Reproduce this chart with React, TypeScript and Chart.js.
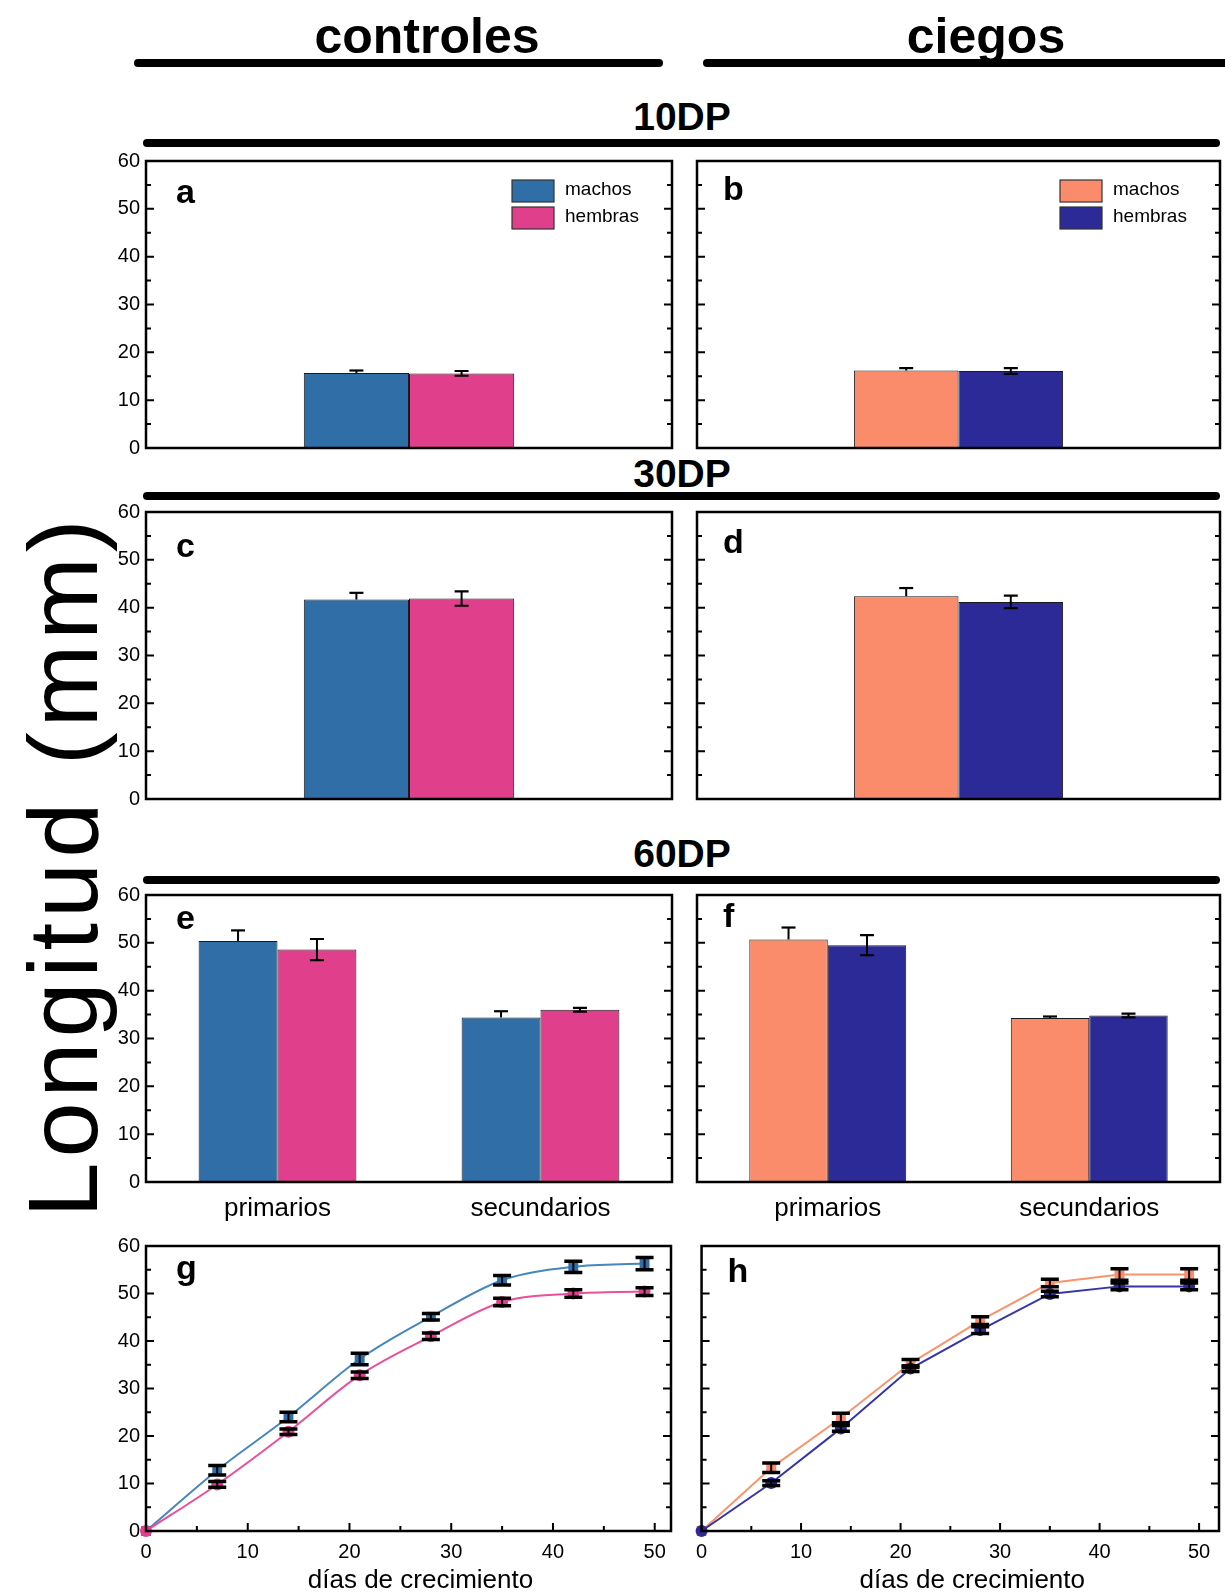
import React, { useEffect, useRef } from 'react';
import { Chart, registerables } from 'chart.js';
Chart.register(...registerables);

const FONT = '"Liberation Sans", Arial, Helvetica, sans-serif';

// ---------------- data ----------------
const cat10DP = ['10DP'];
const cat30DP = ['30DP'];
const cat60DP = ['primarios', 'secundarios'];
const yTickValues = [0, 10, 20, 30, 40, 50, 60];
const dayTickValues = [0, 10, 20, 30, 40, 50];
const days = [0, 7, 14, 21, 28, 35, 42, 49];
const xTitle = 'días de crecimiento';

// 10DP
const aMachos = [15.7];
const aMachosErr = [0.5];
const aHembras = [15.6];
const aHembrasErr = [0.5];
const bMachos = [16.2];
const bMachosErr = [0.5];
const bHembras = [16.1];
const bHembrasErr = [0.6];
// 30DP
const cMachos = [41.7];
const cMachosErr = [1.4];
const cHembras = [41.9];
const cHembrasErr = [1.5];
const dMachos = [42.4];
const dMachosErr = [1.7];
const dHembras = [41.2];
const dHembrasErr = [1.3];
// 60DP
const eMachos = [50.4, 34.4];
const eMachosErr = [2.2, 1.3];
const eHembras = [48.6, 36.0];
const eHembrasErr = [2.2, 0.4];
const fMachos = [50.7, 34.3];
const fMachosErr = [2.5, 0.3];
const fHembras = [49.5, 34.8];
const fHembrasErr = [2.1, 0.4];
// growth
const gMachos = [0, 12.8, 24.0, 36.2, 45.1, 52.8, 55.6, 56.3];
const gMachosErr = [0, 1.0, 1.0, 1.2, 0.7, 1.0, 1.2, 1.3];
const gHembras = [0, 9.8, 20.9, 32.8, 41.0, 48.2, 50.0, 50.4];
const gHembrasErr = [0, 0.6, 0.6, 0.7, 0.7, 0.8, 0.8, 0.8];
const hMachos = [0, 13.3, 23.8, 35.3, 44.3, 52.2, 54.0, 54.0];
const hMachosErr = [0, 1.0, 1.0, 0.8, 0.8, 0.8, 1.2, 1.2];
const hHembras = [0, 10.1, 21.6, 34.2, 42.3, 49.9, 51.5, 51.5];
const hHembrasErr = [0, 0.5, 0.6, 0.6, 0.7, 0.6, 0.7, 0.7];

// ---------------- style ----------------
const BLUE = '#2f6ea7';
const PINK = '#e0408b';
const SALMON = '#fa8c6c';
const NAVY = '#2c2a96';
const BLUE_LINE = '#4587ba';
const PINK_LINE = '#e8509a';
const SALMON_LINE = '#f7956e';
const NAVY_LINE = '#3434aa';

const COL_L = [146, 697];
const COL_R = [672, 1220];
const ROW_T = [161, 512, 895, 1246];
const ROW_B = [448, 799, 1182, 1531];

type Series = {
  label: string;
  values: number[];
  errs: number[];
  upOnly: boolean;
  color: string;
  lineColor?: string;
  pointStyle?: string;
};

type Spec = {
  id: string;
  col: number;
  row: number;
  letter: string;
  letterBase: number;
  kind: 'bar' | 'line';
  labels?: string[];
  catPct?: number;
  smooth?: boolean;
  legend?: boolean;
  xMax?: number;
  series: Series[];
};

const specs: Spec[] = [
  {
    id: 'a', col: 0, row: 0, letter: 'a', letterBase: 42, kind: 'bar', labels: cat10DP, catPct: 0.4, legend: true,
    series: [
      { label: 'machos', values: aMachos, errs: aMachosErr, upOnly: true, color: BLUE },
      { label: 'hembras', values: aHembras, errs: aHembrasErr, upOnly: false, color: PINK },
    ],
  },
  {
    id: 'b', col: 1, row: 0, letter: 'b', letterBase: 39, kind: 'bar', labels: cat10DP, catPct: 0.4, legend: true,
    series: [
      { label: 'machos', values: bMachos, errs: bMachosErr, upOnly: true, color: SALMON },
      { label: 'hembras', values: bHembras, errs: bHembrasErr, upOnly: false, color: NAVY },
    ],
  },
  {
    id: 'c', col: 0, row: 1, letter: 'c', letterBase: 45, kind: 'bar', labels: cat30DP, catPct: 0.4,
    series: [
      { label: 'machos', values: cMachos, errs: cMachosErr, upOnly: true, color: BLUE },
      { label: 'hembras', values: cHembras, errs: cHembrasErr, upOnly: false, color: PINK },
    ],
  },
  {
    id: 'd', col: 1, row: 1, letter: 'd', letterBase: 41, kind: 'bar', labels: cat30DP, catPct: 0.4,
    series: [
      { label: 'machos', values: dMachos, errs: dMachosErr, upOnly: true, color: SALMON },
      { label: 'hembras', values: dHembras, errs: dHembrasErr, upOnly: false, color: NAVY },
    ],
  },
  {
    id: 'e', col: 0, row: 2, letter: 'e', letterBase: 34, kind: 'bar', labels: cat60DP, catPct: 0.6,
    series: [
      { label: 'machos', values: eMachos, errs: eMachosErr, upOnly: true, color: BLUE },
      { label: 'hembras', values: eHembras, errs: eHembrasErr, upOnly: false, color: PINK },
    ],
  },
  {
    id: 'f', col: 1, row: 2, letter: 'f', letterBase: 32, kind: 'bar', labels: cat60DP, catPct: 0.6,
    series: [
      { label: 'machos', values: fMachos, errs: fMachosErr, upOnly: true, color: SALMON },
      { label: 'hembras', values: fHembras, errs: fHembrasErr, upOnly: false, color: NAVY },
    ],
  },
  {
    id: 'g', col: 0, row: 3, letter: 'g', letterBase: 33, kind: 'line', smooth: true, xMax: 51.6,
    series: [
      { label: 'machos', values: gMachos, errs: gMachosErr, upOnly: false, color: BLUE, lineColor: BLUE_LINE, pointStyle: 'rect' },
      { label: 'hembras', values: gHembras, errs: gHembrasErr, upOnly: false, color: PINK, lineColor: PINK_LINE, pointStyle: 'circle' },
    ],
  },
  {
    id: 'h', col: 1, row: 3, letter: 'h', letterBase: 36, kind: 'line', smooth: false, xMax: 52,
    series: [
      { label: 'machos', values: hMachos, errs: hMachosErr, upOnly: false, color: SALMON, lineColor: SALMON_LINE, pointStyle: 'rect' },
      { label: 'hembras', values: hHembras, errs: hHembrasErr, upOnly: false, color: NAVY, lineColor: NAVY_LINE, pointStyle: 'circle' },
    ],
  },
];

function geometry(s: Spec) {
  const padL = s.col === 0 ? 50 : 10;
  const padR = 6;
  const padT = 22;
  const padB = s.row <= 1 ? 22 : s.row === 2 ? 50 : 1592 - ROW_B[3];
  const W = COL_R[s.col] - COL_L[s.col];
  const H = ROW_B[s.row] - ROW_T[s.row];
  return {
    padL, padR, padT, padB,
    left: COL_L[s.col] - padL,
    top: ROW_T[s.row] - padT,
    width: W + padL + padR,
    height: H + padT + padB,
  };
}

function decorPlugin(s: Spec) {
  return {
    id: 'decor_' + s.id,
    afterDatasetsDraw(chart: any) {
      const { ctx, chartArea: ca } = chart;
      const ys = chart.scales.y;
      const xs = chart.scales.x;
      const isLine = s.kind === 'line';
      ctx.save();
      // error bars
      s.series.forEach((se, di) => {
        const meta = chart.getDatasetMeta(di);
        meta.data.forEach((el: any, j: number) => {
          const e = se.errs[j];
          if (!e) return;
          const v = se.values[j];
          const yt = ys.getPixelForValue(v + e);
          const yb = ys.getPixelForValue(se.upOnly ? v : v - e);
          const half = isLine ? 9 : 7;
          ctx.strokeStyle = '#000';
          ctx.lineWidth = 2;
          ctx.beginPath();
          ctx.moveTo(el.x, yt);
          ctx.lineTo(el.x, yb);
          ctx.stroke();
          ctx.lineWidth = isLine ? 3.5 : 2.2;
          ctx.beginPath();
          ctx.moveTo(el.x - half, yt);
          ctx.lineTo(el.x + half, yt);
          if (!se.upOnly) {
            ctx.moveTo(el.x - half, yb);
            ctx.lineTo(el.x + half, yb);
          }
          ctx.stroke();
        });
      });
      // inward ticks
      ctx.strokeStyle = '#000';
      ctx.lineWidth = 2;
      ctx.beginPath();
      for (let v = 5; v < 60; v += 5) {
        const py = ys.getPixelForValue(v);
        const len = v % 10 === 0 ? 8 : 5;
        ctx.moveTo(ca.left, py);
        ctx.lineTo(ca.left + len, py);
        ctx.moveTo(ca.right, py);
        ctx.lineTo(ca.right - len, py);
      }
      if (isLine) {
        for (let v = 5; v <= 50; v += 5) {
          const px = xs.getPixelForValue(v);
          const len = v % 10 === 0 ? 8 : 5;
          ctx.moveTo(px, ca.bottom);
          ctx.lineTo(px, ca.bottom - len);
        }
      }
      ctx.stroke();
      // frame
      ctx.lineWidth = 2.5;
      ctx.strokeRect(ca.left, ca.top, ca.right - ca.left, ca.bottom - ca.top);
      // panel letter
      ctx.fillStyle = '#000';
      ctx.font = `bold 34px ${FONT}`;
      ctx.textAlign = 'left';
      ctx.textBaseline = 'alphabetic';
      ctx.fillText(s.letter, ca.left + (s.col === 0 ? 30 : 26), ca.top + s.letterBase);
      // x axis title (growth panels)
      if (isLine) {
        ctx.font = `26px ${FONT}`;
        ctx.textAlign = 'center';
        ctx.textBaseline = 'middle';
        ctx.fillText(xTitle, (ca.left + ca.right) / 2 + 12, ca.bottom + 50);
      }
      // legend
      if (s.legend) {
        const bx = ca.right - 160;
        ctx.textAlign = 'left';
        ctx.textBaseline = 'alphabetic';
        s.series.forEach((se, i) => {
          const by = ca.top + 19 + i * 27;
          ctx.fillStyle = se.color;
          ctx.fillRect(bx, by, 42, 22);
          ctx.strokeStyle = '#333';
          ctx.lineWidth = 1.2;
          ctx.strokeRect(bx, by, 42, 22);
          ctx.fillStyle = '#000';
          ctx.font = `19px ${FONT}`;
          ctx.fillText(se.label, bx + 53, by + 15);
        });
      }
      ctx.restore();
    },
  };
}

function buildConfig(s: Spec) {
  const g = geometry(s);
  const isLine = s.kind === 'line';
  const datasets: any[] = s.series.map((se, i) =>
    isLine
      ? {
          type: 'line',
          label: se.label,
          data: days.map((d, j) => ({ x: d, y: se.values[j] })),
          borderColor: se.lineColor,
          borderWidth: 2,
          backgroundColor: se.color,
          pointStyle: se.pointStyle,
          pointRadius: se.pointStyle === 'rect' ? 7 : 6,
          pointBorderWidth: 0,
          pointBackgroundColor: se.color,
          cubicInterpolationMode: s.smooth ? 'monotone' : 'default',
          tension: 0,
          order: i === 1 ? 0 : 1,
          clip: false,
        }
      : {
          label: se.label,
          data: se.values,
          backgroundColor: se.color,
          borderColor: '#1a1a1a',
          borderWidth: 1,
          categoryPercentage: s.catPct,
          barPercentage: 1,
        }
  );

  const yScale: any = {
    min: 0,
    max: 60,
    afterBuildTicks: (sc: any) => {
      sc.ticks = yTickValues.map((v) => ({ value: v }));
    },
    grid: { display: false, drawTicks: false },
    border: { display: false },
    ticks: { display: s.col === 0, padding: 6, color: '#000', font: { family: FONT, size: 20 } },
    afterFit: (sc: any) => {
      sc.width = g.padL;
    },
  };

  const showCat = s.row === 2;
  const xScale: any = isLine
    ? {
        type: 'linear',
        min: 0,
        max: s.xMax,
        afterBuildTicks: (sc: any) => {
          sc.ticks = dayTickValues.map((v) => ({ value: v }));
        },
        grid: { display: false, drawTicks: false },
        border: { display: false },
        ticks: { padding: 9, color: '#000', font: { family: FONT, size: 20 } },
        afterFit: (sc: any) => {
          sc.height = g.padB;
        },
      }
    : {
        type: 'category',
        display: showCat,
        grid: { display: false, drawTicks: false },
        border: { display: false },
        ticks: { padding: 11, color: '#000', font: { family: FONT, size: 26 } },
        afterFit: (sc: any) => {
          sc.height = showCat ? g.padB : 0;
        },
      };

  const bottomPad = !isLine && !showCat ? g.padB : 0;

  return {
    type: isLine ? 'line' : 'bar',
    data: { labels: s.labels, datasets },
    options: {
      responsive: false,
      maintainAspectRatio: false,
      animation: false,
      devicePixelRatio: 1,
      layout: { padding: { left: 0, right: g.padR, top: g.padT, bottom: bottomPad } },
      plugins: { legend: { display: false }, tooltip: { enabled: false }, title: { display: false } },
      scales: { x: xScale, y: yScale },
    },
    plugins: [decorPlugin(s)],
  };
}

function Panel({ spec }: { spec: Spec }) {
  const ref = useRef<HTMLCanvasElement>(null);
  const g = geometry(spec);
  useEffect(() => {
    const chart = new Chart(ref.current as HTMLCanvasElement, buildConfig(spec) as any);
    return () => chart.destroy();
  }, []);
  return (
    <canvas
      ref={ref}
      width={g.width}
      height={g.height}
      style={{ position: 'absolute', left: g.left, top: g.top, width: g.width, height: g.height }}
    />
  );
}

function Label({ text, x, baseline, size, bold }: { text: string; x: number; baseline: number; size: number; bold?: boolean }) {
  return (
    <div
      style={{
        position: 'absolute',
        left: x,
        top: baseline - 0.8465 * size,
        transform: 'translateX(-50%)',
        fontFamily: FONT,
        fontWeight: bold ? 700 : 400,
        fontSize: size,
        lineHeight: `${size}px`,
        whiteSpace: 'nowrap',
        color: '#000',
      }}
    >
      {text}
    </div>
  );
}

function Rule({ x1, x2, y }: { x1: number; x2: number; y: number }) {
  return (
    <div
      style={{
        position: 'absolute',
        left: x1,
        top: y - 4,
        width: x2 - x1,
        height: 8,
        background: '#000',
        borderRadius: 4,
      }}
    />
  );
}

export default function App() {
  return (
    <div
      style={{
        position: 'absolute',
        left: 0,
        top: 0,
        width: 1225,
        height: 1592,
        background: '#fff',
        overflow: 'hidden',
      }}
    >
      <Label text="controles" x={427} baseline={53} size={50} bold />
      <Label text="ciegos" x={986} baseline={53} size={50} bold />
      <Rule x1={134} x2={663} y={63} />
      <Rule x1={703} x2={1232} y={63} />
      <Label text="10DP" x={682} baseline={130} size={39} bold />
      <Rule x1={143} x2={1220} y={143} />
      <Label text="30DP" x={682} baseline={487} size={39} bold />
      <Rule x1={143} x2={1220} y={496} />
      <Label text="60DP" x={682} baseline={867} size={39} bold />
      <Rule x1={143} x2={1220} y={880} />
      <div
        style={{
          position: 'absolute',
          left: 62,
          top: 866,
          transform: 'translate(-50%, -50%) rotate(-90deg)',
          fontFamily: FONT,
          fontSize: 99,
          lineHeight: '99px',
          letterSpacing: '5px',
          whiteSpace: 'nowrap',
          color: '#000',
        }}
      >
        Longitud (mm)
      </div>
      {specs.map((s) => (
        <Panel key={s.id} spec={s} />
      ))}
    </div>
  );
}
